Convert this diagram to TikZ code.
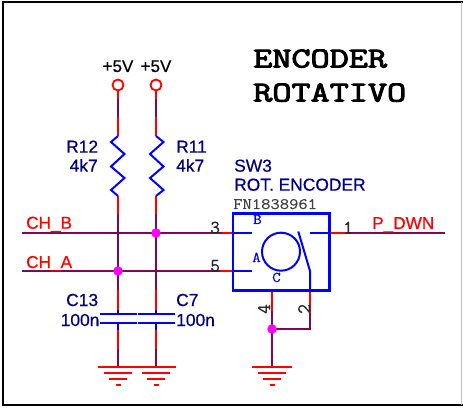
\documentclass[tikz,border=0pt]{standalone}
\usepackage{fontspec}
\setmainfont{Liberation Sans}
\newfontfamily\labelfont[FakeBold=0.5]{Liberation Sans}
\newfontfamily\titlefont[FakeBold=3]{Latin Modern Mono}
\newfontfamily\monofont[FakeBold=0.4]{Latin Modern Mono}
\definecolor{netred}{HTML}{FF0000}
\definecolor{wirepur}{HTML}{7B0A55}
\definecolor{partblue}{HTML}{0000FF}
\definecolor{refnavy}{HTML}{000080}
\definecolor{dotpink}{HTML}{FF00FF}
\tikzset{
  redwire/.style={netred,line width=2pt},
  purwire/.style={wirepur,line width=2pt},
  partline/.style={partblue,line width=2pt},
  thickpart/.style={partblue,line width=2.6pt},
  dot/.style={circle,fill=dotpink,inner sep=0pt,minimum size=9.5pt},
  powerpin/.style={circle,draw=netred,line width=1.8pt,fill=white,inner sep=0pt,minimum size=11pt},
  reflabel/.style={refnavy,anchor=base west,inner sep=0pt,font=\labelfont\fontsize{17.4}{18}\selectfont},
  netlabel/.style={netred,anchor=base west,inner sep=0pt,font=\labelfont\fontsize{17.2}{18}\selectfont},
  pwrlabel/.style={black,anchor=base,inner sep=0pt,font=\labelfont\fontsize{17}{18}\selectfont},
  pinnum/.style={black!85,inner sep=0pt,anchor=base west,font=\monofont\fontsize{19}{20}\selectfont},
  pinletter/.style={partblue,inner sep=0pt,anchor=base west,xscale=1.1,font=\monofont\fontsize{15}{16}\selectfont},
  titletext/.style={black,inner sep=0pt,anchor=base west,xscale=1.28,font=\titlefont\fontsize{29}{30}\selectfont},
  gnd/.pic={
    \draw[netred,line width=1.8pt] (-20,0) -- (20,0);
    \draw[netred,line width=1.8pt] (-14,6) -- (14,6);
    \draw[netred,line width=1.8pt] (-9,12) -- (9,12);
    \draw[netred,line width=1.8pt] (-2.5,18) -- (2.5,18);
  }
}
\begin{document}
\begin{tikzpicture}[x=1pt,y=-1pt]
  \useasboundingbox (0,0) rectangle (463,414);
  % frame
  \draw[black,line width=2.5pt] (463,2) -- (3,2) -- (3,405) -- (463,405);
  \draw[black!25,line width=1pt] (461.5,2) -- (461.5,405);
  % title
  \node[titletext] (title1) at (253,67.5) {ENCODER};
  \node[titletext] (title2) at (253,101.5) {ROTATIVO};
  % supply pins
  \node[powerpin] (vcc12) at (118,85) {};
  \node[powerpin] (vcc11) at (156,85) {};
  \node[pwrlabel] (vcc12txt) at (118,72) {+5V};
  \node[pwrlabel] (vcc11txt) at (156,72) {+5V};
  % break points of the vertical wires
  \coordinate (r12top) at (118,136);
  \coordinate (r11top) at (156,136);
  \coordinate (r12bot) at (118,196);
  \coordinate (r11bot) at (156,196);
  \coordinate (c13top) at (118,310);
  \coordinate (c7top) at (156,310);
  \coordinate (c13bot) at (118,330);
  \coordinate (c7bot) at (156,330);
  \coordinate (g13) at (118,367);
  \coordinate (g7) at (156,367);
  \coordinate (g3) at (272,367);
  % wires, red first and purple over it
  \draw[redwire] (vcc12) -- (r12top);
  \draw[redwire] (vcc11) -- (r11top);
  \draw[purwire] (118,99) -- (118,117);
  \draw[purwire] (156,99) -- (156,117);
  \draw[redwire] (r12bot) -- (c13top);
  \draw[redwire] (r11bot) -- (c7top);
  \draw[purwire] (118,214) -- (118,290);
  \draw[purwire] (156,214) -- (156,290);
  \draw[redwire] (c13bot) -- (g13);
  \draw[redwire] (c7bot) -- (g7);
  \draw[purwire] (118,349) -- (g13);
  \draw[purwire] (156,349) -- (g7);
  % resistors
  \draw[partline,line join=miter] (r12top) -- (111,142) -- (124.5,154) -- (111,166.5) -- (124.5,178) -- (111,190) -- (r12bot);
  \draw[partline,line join=miter] (r11top) -- (163.5,142) -- (150,154) -- (163.5,166.5) -- (150,178) -- (163.5,190) -- (r11bot);
  \node[reflabel] (r12txt) at (66,152.7) {R12};
  \node[reflabel] (r12val) at (69.5,171.7) {4k7};
  \node[reflabel] (r11txt) at (176,152.7) {R11};
  \node[reflabel] (r11val) at (176,171.7) {4k7};
  % capacitors
  \draw[partline] (100,313.7) -- (137,313.7);
  \draw[partline] (100,323.3) -- (137,323.3);
  \draw[partline] (138,313.7) -- (175,313.7);
  \draw[partline] (138,323.3) -- (175,323.3);
  \draw[partline] (c13top) -- (118,313.7);
  \draw[partline] (c7top) -- (156,313.7);
  \draw[partline] (118,323.3) -- (c13bot);
  \draw[partline] (156,323.3) -- (c7bot);
  \node[reflabel] (c13txt) at (66,306) {C13};
  \node[reflabel] (c13val) at (60.5,326) {100n};
  \node[reflabel] (c7txt) at (176,306) {C7};
  \node[reflabel] (c7val) at (176,326) {100n};
  % encoder
  \coordinate (sw3tl) at (233,213.5);
  \coordinate (sw3br) at (329.5,290.5);
  \coordinate (pinb) at (233,233);
  \coordinate (pina) at (233,271);
  \coordinate (pinp) at (329.5,233);
  \coordinate (pinc) at (272,290.5);
  \coordinate (pinsw) at (310,290.5);
  \coordinate (chbin) at (22,233);
  \coordinate (chain) at (22,271);
  \coordinate (pdwnend) at (445,233);
  \coordinate (tie) at (310,329);
  % nets to the encoder
  \draw[redwire] (chbin) -- (pinb);
  \draw[redwire] (chain) -- (pina);
  \draw[purwire] (chbin) -- (222,233);
  \draw[purwire] (chain) -- (220,271);
  \draw[redwire] (pinp) -- (pdwnend);
  \draw[purwire] (348,233) -- (pdwnend);
  \draw[redwire] (pinc) -- (g3);
  \draw[redwire] (pinsw) -- (tie);
  \draw[purwire] (272,311) -- (g3);
  \draw[purwire] (310,313) -- (tie) -- (272,329);
  \draw[thickpart] (sw3tl) rectangle (sw3br);
  \draw[partline] (pinb) -- (252,233);
  \draw[partline] (pina) -- (252,271);
  \draw[partline] (309.5,233) -- (pinp);
  \node[circle,draw=partblue,line width=2pt,inner sep=0pt,minimum size=38pt] (rotor) at (281,251.7) {};
  \draw[partline,line join=round] (298.3,231.5) -- (310,271) -- (pinsw);
  \node[reflabel] (swtxt) at (234,171.7) {SW3};
  \node[reflabel] (swval) at (234,190.7) {ROT. ENCODER};
  \node[inner sep=0pt,anchor=base west,black!75,xscale=1.13,font=\monofont\fontsize{16}{17}\selectfont] (swpn) at (233,209) {FN1838961};
  \node[pinletter] (ltrb) at (253,224) {B};
  \node[pinletter] (ltra) at (252,262) {A};
  \node[pinletter] (ltrc) at (272,282) {C};
  \node[pinnum] (num3) at (210,233.5) {3};
  \node[pinnum] (num5) at (210,271.5) {5};
  \node[pinnum] (num1) at (343,233.5) {1};
  \node[pinnum,rotate=90] (num4) at (270,314) {4};
  \node[pinnum,rotate=90] (num2) at (310,314) {2};
  % net labels
  \node[netlabel] (chbtxt) at (26,228.7) {CH\_B};
  \node[netlabel] (chatxt) at (26,268) {CH\_A};
  \node[netlabel] (pdwntxt) at (372,229) {P\_DWN};
  % junctions and grounds
  \node[dot] (j1) at (156,233) {};
  \node[dot] (j2) at (118,271) {};
  \node[dot] (j3) at (272,329) {};
  \pic at (g13) {gnd};
  \pic at (g7) {gnd};
  \pic at (g3) {gnd};
\end{tikzpicture}
\end{document}
